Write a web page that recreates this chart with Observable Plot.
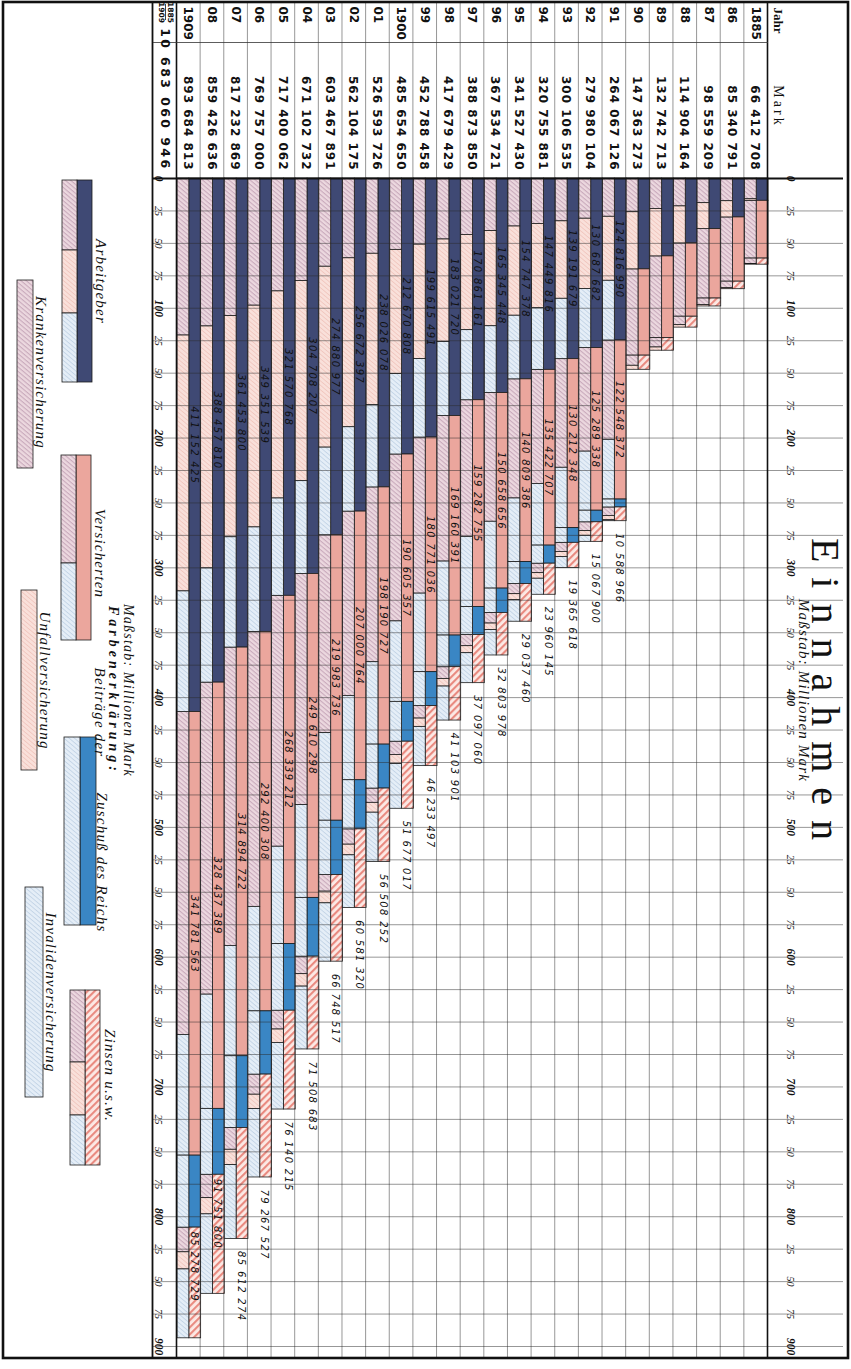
<!DOCTYPE html>
<html><head><meta charset="utf-8">
<script src="https://cdn.jsdelivr.net/npm/d3@7"></script>
<script src="https://cdn.jsdelivr.net/npm/@observablehq/plot@0.6"></script>
<style>
html,body{margin:0;padding:0;overflow:hidden;background:#fff;width:851px;height:1369px}
#rot{position:absolute;left:0;top:0;width:1369px;height:851px;transform-origin:0 0;transform:translate(851px,0) rotate(90deg);background:#fff}
</style></head><body><div id="rot"></div>
<script>
// ---------------- data (Mio. Mark) ----------------
const years = [1885,1886,1887,1888,1889,1890,1891,1892,1893,1894,1895,1896,1897,1898,1899,1900,1901,1902,1903,1904,1905,1906,1907,1908,1909];
const yearLabels = ["1885","86","87","88","89","90","91","92","93","94","95","96","97","98","99","1900","01","02","03","04","05","06","07","08","1909"];
const totalLabels = ["66 412 708","85 340 791","98 559 209","114 904 164","132 742 713","147 363 273","264 067 126","279 980 104","300 106 535","320 755 881","341 527 430","367 534 721","388 873 850","417 679 429","452 788 458","485 654 650","526 593 726","562 104 175","603 467 891","671 102 732","717 400 062","769 757 000","817 232 869","859 426 636","893 684 813"];
const sumLabel = "10 683 060 946";

// Beiträge der Arbeitgeber
const agKranken    = [16.0,17.5,19.0,21.5,23.5,26.0,29.5,31.0,33.0,35.0,37.0,40.5,43.5,47.0,51.0,55.0,58.0,61.5,68.0,79.0,87.0,98.0,106.0,114.0,121.0];
const agUnfall     = [1.2,12.5,20.0,28.5,36.5,44.0,49.317,54.188,59.692,64.950,68.747,73.345,73.361,79.022,88.115,95.671,116.526,130.172,139.381,154.208,159.571,170.852,170.454,186.458,197.152];
const agInvaliden  = [0,0,0,0,0,0,46.0,45.5,46.5,47.5,49.0,51.5,54.0,57.0,60.5,62.0,63.5,65.0,67.5,71.5,75.0,80.5,85.0,88.0,93.0];
// Beiträge der Versicherten
const vKranken     = [44.5,49.5,53.5,56.5,63.0,66.5,76.548,79.789,83.712,87.923,91.809,99.159,105.283,112.160,120.271,128.605,134.691,142.001,152.484,178.110,193.339,211.900,229.895,240.437,248.782];
const vInvaliden   = [0,0,0,0,0,0,46.0,45.5,46.5,47.5,49.0,51.5,54.0,57.0,60.5,62.0,63.5,65.0,67.5,71.5,75.0,80.5,85.0,88.0,93.0];
// Zuschuß des Reichs
const reichInvaliden = [0,0,0,0,0,0,6.113,8.935,11.337,13.923,16.934,18.727,21.633,24.393,26.169,30.702,33.869,37.850,41.854,45.276,51.350,48.737,55.272,50.780,55.472];
// Zinsen u.s.w.
const zKranken     = [4.2,5.0,5.0,6.5,7.2,7.8,6.5,6.8,7.0,7.3,7.8,8.2,8.6,9.0,9.6,10.2,11.0,11.8,12.8,13.5,14.5,15.5,16.8,18.0,19.0];
const zUnfall      = [0.5,0.8,1.1,1.9,2.5,3.1,3.3,3.6,4.0,4.3,4.6,5.0,5.4,5.9,6.4,7.0,7.6,8.2,9.0,9.6,10.3,11.0,11.8,12.5,13.2];
const zInvaliden   = [0,0,0,0,0,0,0.789,4.668,8.366,12.360,16.637,19.604,23.097,26.204,30.233,34.477,37.908,40.581,44.949,48.409,51.340,52.768,57.012,61.252,53.079];

// printed labels on the bars
const agLabels = [null,null,null,null,null,null,"124 816 990","130 687 682","139 191 679","147 449 816","154 747 378","165 345 448","170 861 161","183 021 720","199 615 491","212 670 808","238 026 078","256 672 397","274 880 977","304 708 207","321 570 768","349 351 539","361 453 800","388 457 810","411 152 425"];
const vLabels  = [null,null,null,null,null,null,"122 548 372","125 289 338","130 212 348","135 422 707","140 809 386","150 658 656","159 282 755","169 160 391","180 771 036","190 605 357","198 190 727","207 000 764","219 983 736","249 610 298","268 339 212","292 400 308","314 894 722","328 437 389","341 781 563"];
const zLabels  = [null,null,null,null,null,null,"10 588 966","15 067 900","19 365 618","23 960 145","29 037 460","32 803 978","37 097 060","41 103 901","46 233 497","51 677 017","56 508 252","60 581 320","66 748 517","71 508 683","76 140 215","79 267 527","85 612 274","91 751 800","85 278 729"];

const scaleTicks = d3.range(0, 901, 25);

// ---------------- layout ----------------
const W = 1369, H = 851;
const X0 = 178, X1 = 1346, Y0 = 83, Y1 = 674;
const PX = p => (p - X0) * 900 / (X1 - X0);
const PY = p => (p - Y0) * 25 / (Y1 - Y0);

const sources = [
  {key: "ag", parts: [["kr", agKranken], ["un", agUnfall], ["in", agInvaliden]]},
  {key: "vb", parts: [["kr", vKranken], ["in", vInvaliden]]},
  {key: "re", parts: [["in", reichInvaliden]]},
  {key: "zi", parts: [["kr", zKranken], ["un", zUnfall], ["in", zInvaliden]]}
];

const rects = [];
const rows = years.map((yr, i) => {
  let acc = 0;
  const row = {i, yr};
  for (const s of sources) {
    const start = acc;
    for (const [ins, arr] of s.parts) {
      const v = arr[i];
      if (v > 0) rects.push({key: ins, x1: acc, x2: acc + v, y1: i + 0.5, y2: i + 1});
      acc += v;
    }
    if (acc > start) rects.push({key: s.key, x1: start, x2: acc, y1: i, y2: i + 0.5});
    row[s.key + "0"] = start; row[s.key + "1"] = acc;
  }
  row.total = acc;
  return row;
});

// legend boxes (pixel layout converted to scale units)
const legendSources = [
  {key: "ag", x: [180, 382], y: [759, 789], parts: [["kr", 180, 250], ["un", 250, 313], ["in", 313, 382]]},
  {key: "vb", x: [455, 640], y: [760, 790], parts: [["kr", 455, 563], ["in", 563, 640]]},
  {key: "re", x: [737, 925], y: [755, 787], parts: [["in", 737, 925]]},
  {key: "zi", x: [990, 1165], y: [751, 781], parts: [["kr", 990, 1062], ["un", 1062, 1115], ["in", 1115, 1165]]}
];
for (const L of legendSources) {
  const ym = (L.y[0] + L.y[1]) / 2;
  rects.push({key: L.key, x1: PX(L.x[0]), x2: PX(L.x[1]), y1: PY(L.y[0]), y2: PY(ym)});
  for (const [k, a, b] of L.parts) rects.push({key: k, x1: PX(a), x2: PX(b), y1: PY(ym), y2: PY(L.y[1])});
}
const legendTypes = [
  {key: "kr", x: [280, 468], y: [818, 834]},
  {key: "un", x: [590, 770], y: [814, 830]},
  {key: "in", x: [887, 1097], y: [808, 826]}
];
for (const L of legendTypes) rects.push({key: L.key, x1: PX(L.x[0]), x2: PX(L.x[1]), y1: PY(L.y[0]), y2: PY(L.y[1])});

const legendTexts = [
  {t: "Arbeitgeber", x: 281, y: 750},
  {t: "Versicherten", x: 553, y: 751},
  {t: "Beiträge der", x: 712, y: 751},
  {t: "Zuschuß des Reichs", x: 862, y: 749},
  {t: "Zinsen u.s.w.", x: 1075, y: 741},
  {t: "Krankenversicherung", x: 372, y: 810},
  {t: "Unfallversicherung", x: 680, y: 806},
  {t: "Invalidenversicherung", x: 992, y: 800}
];

// fills: solid colours directly, patterns through placeholder colours replaced after rendering
const fills = {ag: "#3f4974", vb: "#eba69d", re: "#3a86c4", zi: "#040404", kr: "#010101", un: "#020202", in: "#030303"};
const keys = ["ag", "vb", "re", "zi", "kr", "un", "in"];
// text style markers (near-black fills used to attach letter-spacing afterwards)
const T = {plain: "#111111", val: "#111112", sum: "#111113", mark: "#111114", lab: "#111115", title: "#111116", sub: "#111117", farb: "#111118", leg: "#111119"};

const serif = "'Liberation Serif','DejaVu Serif',serif";
const sans = "'DejaVu Sans','Liberation Sans',sans-serif";
const lineCol = "#1c1c1c";

const plot = Plot.plot({
  width: W, height: H,
  marginLeft: X0, marginRight: W - X1, marginTop: Y0, marginBottom: H - Y1,
  x: {domain: [0, 900], axis: null},
  y: {domain: [0, 25], reverse: true, axis: null},
  style: {background: "#fff", overflow: "visible"},
  marks: [
    // bars and legend boxes
    ...keys.map(k => Plot.rect(rects.filter(d => d.key === k), {
      x1: "x1", x2: "x2", y1: "y1", y2: "y2",
      fill: fills[k], stroke: lineCol, strokeWidth: 0.8
    })),
    // scale grid (every 25 Mio.)
    Plot.ruleX(scaleTicks, {x: d => d, y1: () => PY(8), y2: () => PY(698), stroke: "#2a2a2a", strokeOpacity: 0.7, strokeWidth: 0.7}),
    // row separators
    Plot.ruleY(d3.range(1, 25), {y: d => d, x1: () => PX(2), x2: () => PX(1358), stroke: "#2a2a2a", strokeOpacity: 0.7, strokeWidth: 0.7}),
    Plot.ruleY([0, 25], {y: d => d, x1: () => PX(2), x2: () => PX(1358), stroke: "#111", strokeWidth: 1.6}),
    Plot.ruleY([PY(698)], {y: d => d, x1: () => PX(2), x2: () => PX(1358), stroke: "#111", strokeWidth: 1.8}),
    Plot.ruleX([0], {x: d => d, y1: () => PY(8), y2: () => PY(698), stroke: "#111", strokeWidth: 1.8}),
    Plot.ruleX([PX(42)], {x: d => d, y1: () => 0, y2: () => PY(698), stroke: "#333", strokeWidth: 0.8}),
    // outer frame
    Plot.rect([{x1: PX(2), x2: PX(1358), y1: PY(3), y2: PY(848)}], {x1: "x1", x2: "x2", y1: "y1", y2: "y2", fill: "none", stroke: "#111", strokeWidth: 2.6}),
    // table
    Plot.text(yearLabels, {x: () => PX(6), y: (d, i) => i + 0.5, text: d => d, textAnchor: "start", fontFamily: sans, fontWeight: "bold", fontSize: 12, fill: T.plain}),
    Plot.text(totalLabels, {x: () => PX(170), y: (d, i) => i + 0.52, text: d => d, textAnchor: "end", fontFamily: sans, fontWeight: "bold", fontSize: 12, fill: T.val}),
    Plot.text([sumLabel], {x: () => PX(170), y: () => PY(686), text: d => d, textAnchor: "end", fontFamily: sans, fontWeight: "bold", fontSize: 12.5, fill: T.sum}),
    Plot.text(["1885", "1909"], {x: () => PX(12), y: (d, i) => PY(i ? 689.5 : 680.5), text: d => d, fontFamily: sans, fontWeight: "bold", fontSize: 7.5, fill: T.plain}),
    Plot.ruleY([PY(685)], {y: d => d, x1: () => PX(4), x2: () => PX(20), stroke: "#111", strokeWidth: 0.8}),
    Plot.text(["Jahr"], {x: () => PX(20), y: () => PY(72), text: d => d, fontFamily: serif, fontWeight: "bold", fontSize: 13, fill: T.plain}),
    Plot.text(["Mark"], {x: () => PX(106), y: () => PY(72), text: d => d, fontFamily: serif, fontSize: 14, fill: T.mark}),
    // scale labels (top and bottom)
    ...[PY(60), PY(692)].flatMap(yy => [
      Plot.text(scaleTicks.filter(v => v % 100 !== 0), {x: d => d, y: () => yy, text: d => String(d % 100), fontFamily: serif, fontStyle: "italic", fontSize: 10, fill: "#222"}),
      Plot.text(scaleTicks.filter(v => v % 100 === 0), {x: d => d, y: () => yy, text: d => String(d), fontFamily: serif, fontStyle: "italic", fontWeight: "bold", fontSize: 11.5, fill: T.plain})
    ]),
    // bar labels
    Plot.text(rows.filter(r => agLabels[r.i]), {x: r => (r.ag0 + r.ag1) / 2, y: r => r.i + 0.27, text: r => agLabels[r.i], fontFamily: sans, fontStyle: "italic", fontSize: 10, fill: T.lab}),
    Plot.text(rows.filter(r => vLabels[r.i]), {x: r => (r.vb0 + r.vb1) / 2, y: r => r.i + 0.27, text: r => vLabels[r.i], fontFamily: sans, fontStyle: "italic", fontSize: 10, fill: T.lab}),
    Plot.text(rows.filter(r => zLabels[r.i] && r.total <= 840), {x: r => r.total, dx: 12, y: r => r.i + 0.27, text: r => zLabels[r.i], textAnchor: "start", fontFamily: sans, fontStyle: "italic", fontSize: 10, fill: T.lab}),
    Plot.text(rows.filter(r => zLabels[r.i] && r.total > 840), {x: r => r.zi0, dx: 4, y: r => r.i + 0.27, text: r => zLabels[r.i], textAnchor: "start", fontFamily: sans, fontStyle: "italic", fontSize: 10, fill: T.lab}),
    // titles
    Plot.text(["Einnahmen"], {x: () => PX(696), y: () => PY(25.5), text: d => d, fontFamily: serif, fontSize: 40, fill: T.title}),
    Plot.text(["Maßstab: Millionen Mark"], {x: () => PX(690), y: () => PY(47), text: d => d, fontFamily: serif, fontStyle: "italic", fontSize: 15, fill: T.sub}),
    Plot.text(["Maßstab: Millionen Mark"], {x: () => PX(690), y: () => PY(722), text: d => d, fontFamily: serif, fontStyle: "italic", fontSize: 14, fill: T.sub}),
    Plot.text(["Farbenerklärung:"], {x: () => PX(690), y: () => PY(737), text: d => d, fontFamily: serif, fontStyle: "italic", fontWeight: "bold", fontSize: 14, fill: T.farb}),
    Plot.text(legendTexts, {x: d => PX(d.x), y: d => PY(d.y), text: "t", fontFamily: serif, fontStyle: "italic", fontSize: 15, fill: T.leg})
  ]
});

const defs = `
<pattern id="p-kr" patternUnits="userSpaceOnUse" width="3.4" height="3.4" patternTransform="rotate(40)"><rect width="3.4" height="3.4" fill="#ecd8df"/><rect width="1.1" height="3.4" fill="#c9aabc"/></pattern>
<pattern id="p-un" patternUnits="userSpaceOnUse" width="3.4" height="3.4" patternTransform="rotate(40)"><rect width="3.4" height="3.4" fill="#f9e0da"/><rect width="0.8" height="3.4" fill="#f0c5bc"/></pattern>
<pattern id="p-in" patternUnits="userSpaceOnUse" width="3.4" height="3.4" patternTransform="rotate(40)"><rect width="3.4" height="3.4" fill="#e5eef7"/><rect width="0.9" height="3.4" fill="#c3d4e6"/></pattern>
<pattern id="p-zi" patternUnits="userSpaceOnUse" width="5" height="5" patternTransform="rotate(-45)"><rect width="5" height="5" fill="#fce9e5"/><rect width="2.1" height="5" fill="#e98a80"/></pattern>`;
const sel = d3.select(plot);
const defsNode = document.createElementNS("http://www.w3.org/2000/svg", "defs");
defsNode.innerHTML = defs;
plot.insertBefore(defsNode, plot.firstChild);
const patternOf = {"#040404": "zi", "#010101": "kr", "#020202": "un", "#030303": "in"};
sel.selectAll("[fill]").each(function () {
  const f = (this.getAttribute("fill") || "").toLowerCase();
  if (patternOf[f]) this.setAttribute("fill", `url(#p-${patternOf[f]})`);
});
const spacing = {"#111112": "1px", "#111113": "2.4px", "#111114": "3px", "#111115": "1.3px", "#111116": "15px", "#111117": "1.2px", "#111118": "4px", "#111119": "1.2px"};
sel.selectAll("[fill]").each(function () {
  const f = (this.getAttribute("fill") || "").toLowerCase();
  if (spacing[f]) { this.style.letterSpacing = spacing[f]; this.setAttribute("fill", "#111111"); }
});
document.getElementById("rot").appendChild(plot);
</script></body></html>
